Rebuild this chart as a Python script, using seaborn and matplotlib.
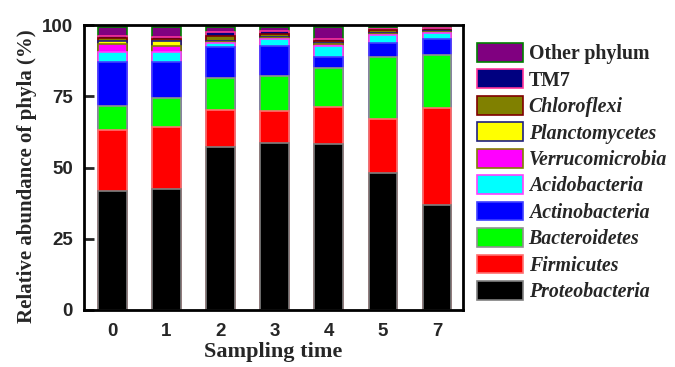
import numpy as np
import pandas as pd
import seaborn as sns
import matplotlib.pyplot as plt
from matplotlib.patches import Patch

# data (% relative abundance, bottom -> top of each stacked bar)
times = ["0", "1", "2", "3", "4", "5", "7"]
phyla = ["Proteobacteria", "Firmicutes", "Bacteroidetes", "Actinobacteria",
         "Acidobacteria", "Verrucomicrobia", "Planctomycetes", "Chloroflexi",
         "TM7", "Other phylum"]
proteobacteria = [41.8, 42.5, 57.3, 58.5, 58.2, 48.2, 36.8]
firmicutes = [21.4, 21.6, 12.9, 11.4, 13.1, 18.7, 34.2]
bacteroidetes = [8.5, 10.2, 11.1, 12.1, 13.7, 21.7, 18.6]
actinobacteria = [15.2, 12.6, 10.9, 10.5, 3.9, 5.1, 5.5]
acidobacteria = [3.5, 3.5, 1.5, 2.6, 3.8, 2.7, 2.1]
verrucomicrobia = [2.9, 2.2, 0.5, 0.4, 0.6, 0.6, 0.4]
planctomycetes = [1.1, 1.8, 0.3, 0.3, 0.4, 0.3, 0.2]
chloroflexi = [0.9, 0.6, 1.6, 1.0, 0.8, 0.8, 0.6]
tm7 = [0.8, 0.8, 1.4, 1.2, 0.7, 0.5, 0.5]
other = [3.3, 3.6, 1.9, 1.4, 4.2, 0.8, 0.5]

face_colors = ["#000000", "#ff0000", "#00ff00", "#0000ff", "#00ffff",
               "#ff00ff", "#ffff00", "#808000", "#000080", "#800080"]
edge_colors = ["#808080", "#ff7070", "#909090", "#4040ff", "#ff40ff",
               "#808000", "#202080", "#800000", "#ff3399", "#008000"]

df = pd.DataFrame({"time": times})
for name, vals in zip(phyla, [proteobacteria, firmicutes, bacteroidetes, actinobacteria,
                              acidobacteria, verrucomicrobia, planctomycetes, chloroflexi,
                              tm7, other]):
    df[name] = vals

sns.set_style("ticks")
plt.rcParams["font.family"] = ["Liberation Serif", "DejaVu Serif"]

fig = plt.figure(figsize=(6.75, 3.67), dpi=100)
ax = fig.add_axes([84 / 675, 1 - 310 / 367, (463 - 84) / 675, (310 - 25) / 367])

# stacked bars: draw cumulative totals from the top layer down
cum = df[phyla].cumsum(axis=1)
for i in range(len(phyla) - 1, -1, -1):
    sns.barplot(x=df["time"], y=cum[phyla[i]], order=times, color=face_colors[i],
                edgecolor=edge_colors[i], linewidth=1.2, saturation=1,
                width=0.53, ax=ax)

ax.set_xlim(-0.52, 6.48)
ax.set_ylim(0, 100)
ax.set_yticks([0, 25, 50, 75, 100])

for s in ax.spines.values():
    s.set_visible(True)
    s.set_linewidth(2)
    s.set_color("black")

ax.tick_params(axis="y", direction="in", length=7, width=2, pad=8)
ax.tick_params(axis="x", length=0, pad=9)
for lab in ax.get_xticklabels() + ax.get_yticklabels():
    lab.set_fontfamily("Liberation Sans")
    lab.set_fontweight("bold")
    lab.set_fontsize(13.5)

ax.set_xlabel("Sampling time", fontsize=16, fontweight="bold", labelpad=2)
ax.set_ylabel("Relative abundance of phyla (%)", fontsize=15, fontweight="bold")
ax.yaxis.set_label_coords(-0.125, 0.47)

# legend (top entry = top of stack)
handles = [Patch(facecolor=face_colors[i], edgecolor=edge_colors[i], linewidth=1.2)
           for i in range(len(phyla) - 1, -1, -1)]
labels = phyla[::-1]
leg = fig.legend(handles, labels, loc="upper left", bbox_to_anchor=(477 / 675, 1 - 43 / 367),
                 frameon=False, borderpad=0, borderaxespad=0, handlelength=2.3,
                 handleheight=1.07, handletextpad=0.3, labelspacing=0.27,
                 prop={"size": 14.3, "weight": "bold"})
for t in leg.get_texts():
    if t.get_text() not in ("Other phylum", "TM7"):
        t.set_fontstyle("italic")

plt.savefig("out.png", dpi=100)
plt.close(fig)
